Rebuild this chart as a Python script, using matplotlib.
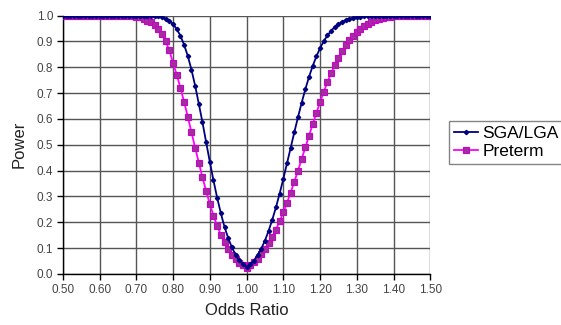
import matplotlib
matplotlib.use("Agg")
import matplotlib.pyplot as plt
import numpy as np

plt.rcParams['font.family'] = ['Liberation Sans', 'DejaVu Sans']

odds_ratio = [round(0.50 + 0.01 * i, 2) for i in range(101)]

sga_lga = (
    [1.0] * 26 +  # 0.50 - 0.75
    [0.997, 0.994, 0.988, 0.980, 0.967, 0.948, 0.922, 0.887, 0.844, 0.791,   # 0.76-0.85
     0.729, 0.659, 0.587, 0.510, 0.434, 0.362, 0.295, 0.235, 0.182, 0.139,   # 0.86-0.95
     0.103, 0.075, 0.053, 0.037, 0.027,                                      # 0.96-1.00
     0.037, 0.052, 0.073, 0.098, 0.129, 0.167, 0.210, 0.258, 0.311, 0.368,   # 1.01-1.10
     0.428, 0.488, 0.549, 0.607, 0.663, 0.715, 0.763, 0.805, 0.842, 0.874,   # 1.11-1.20
     0.901, 0.923, 0.941, 0.956, 0.967, 0.976, 0.983, 0.988, 0.991, 0.994,   # 1.21-1.30
     0.996, 0.997, 0.998, 0.999] +                                           # 1.31-1.34
    [1.0] * 16                                                               # 1.35-1.50
)

preterm = (
    [1.0] * 20 +  # 0.50 - 0.69
    [0.996, 0.993, 0.988, 0.981, 0.975, 0.965, 0.950, 0.930, 0.900, 0.865,   # 0.70-0.79
     0.816, 0.771, 0.721, 0.666, 0.609, 0.549, 0.489, 0.431, 0.374, 0.321,   # 0.80-0.89
     0.271, 0.226, 0.186, 0.152, 0.122, 0.096, 0.075, 0.058, 0.044, 0.034,   # 0.90-0.99
     0.025,                                                                  # 1.00
     0.034, 0.045, 0.059, 0.076, 0.096, 0.118, 0.143, 0.172, 0.204, 0.238,   # 1.01-1.10
     0.275, 0.315, 0.357, 0.400, 0.445, 0.490, 0.535, 0.580, 0.623, 0.665,   # 1.11-1.20
     0.705, 0.742, 0.777, 0.808, 0.836, 0.862, 0.885, 0.905, 0.922, 0.937,   # 1.21-1.30
     0.950, 0.960, 0.969, 0.976, 0.982, 0.987, 0.990, 0.993, 0.995, 0.997,   # 1.31-1.40
     0.998, 0.998, 0.999] +                                                  # 1.41-1.43
    [1.0] * 7                                                                # 1.44-1.50
)

x_ticks = [0.50, 0.60, 0.70, 0.80, 0.90, 1.00, 1.10, 1.20, 1.30, 1.40, 1.50]
y_ticks = [0.0, 0.1, 0.2, 0.3, 0.4, 0.5, 0.6, 0.7, 0.8, 0.9, 1.0]

fig = plt.figure(figsize=(5.61, 3.25), dpi=100)
ax = fig.add_axes([0.112, 0.157, 0.655, 0.795])

ax.plot(odds_ratio, sga_lga, color='#000080', lw=1.3, marker='D', ms=2.2,
        mfc='#000080', mec='#000080', label='SGA/LGA', zorder=4)
ax.plot(odds_ratio, preterm, color='#ff00ff', lw=1.3, marker='s', ms=4.4,
        mfc='#a0309a', mec='#cc00cc', mew=0.8, label='Preterm', zorder=3)

ax.set_xlim(0.5, 1.5)
ax.set_ylim(0.0, 1.0)
ax.set_xticks(x_ticks)
ax.set_xticklabels([f"{v:.2f}" for v in x_ticks])
ax.set_yticks(y_ticks)
ax.set_yticklabels([f"{v:.1f}" for v in y_ticks])
ax.grid(True, color='#555555', lw=1.0)
ax.set_axisbelow(True)
for s in ['top', 'right']:
    ax.spines[s].set_visible(False)
for s in ['left', 'bottom']:
    ax.spines[s].set_color('#000000')
    ax.spines[s].set_linewidth(1.0)
ax.tick_params(axis='both', direction='out', length=4, width=1, color='#000000',
               labelsize=8.5, labelcolor='#444444', pad=3)

ax.set_xlabel('Odds Ratio', fontsize=12, color='#222222', labelpad=5)
ax.set_ylabel('Power', fontsize=12, color='#222222', labelpad=7)

leg = fig.legend(loc='upper left', bbox_to_anchor=(0.80, 0.628), fontsize=12.5,
                 frameon=True, fancybox=False, edgecolor='#666666',
                 handlelength=1.4, handletextpad=0.25, borderpad=0.3,
                 labelspacing=0.15, borderaxespad=0)
leg.get_frame().set_linewidth(1.0)

fig.savefig('out.png', dpi=100)
